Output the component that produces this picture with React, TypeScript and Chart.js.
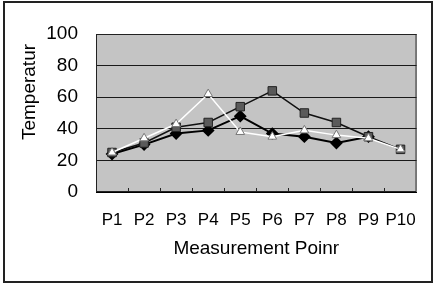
import { useEffect, useRef } from "react";
import { Chart, registerables } from "chart.js";

Chart.register(...registerables);

const categories = ["P1", "P2", "P3", "P4", "P5", "P6", "P7", "P8", "P9", "P10"];
const seriesTriangle = [25, 34, 43, 62, 38, 35, 39, 36, 34, 27];
const seriesSquare = [25, 31, 41, 44, 54, 64, 50, 44, 35, 27];
const seriesDiamond: (number | null)[] = [24, 30, 37, 39, 48, 37, 35, 31, 35, null];
const yTickValues = [0, 20, 40, 60, 80, 100];
const yTitle = "Temperatur";
const xTitle = "Measurement Poinr";

const FAMILY = '"Liberation Sans", Arial, sans-serif';

const framePlugin = {
  id: "frame",
  beforeDraw(chart: any) {
    const ctx = chart.ctx;
    const { left, top, right, bottom } = chart.chartArea;
    ctx.save();
    ctx.fillStyle = "#ffffff";
    ctx.fillRect(0, 0, chart.width, chart.height);
    ctx.strokeStyle = "#222222";
    ctx.lineWidth = 2;
    ctx.strokeRect(4, 2, 428, 280);
    ctx.fillStyle = "#c4c4c4";
    ctx.fillRect(left, top, right - left, bottom - top);
    ctx.restore();
  },
  beforeDatasetsDraw(chart: any) {
    const ctx = chart.ctx;
    const { left, top, right, bottom } = chart.chartArea;
    ctx.save();
    ctx.strokeStyle = "#222222";
    ctx.lineWidth = 1;
    ctx.strokeRect(left + 0.5, top + 0.5, right - left - 1, bottom - top - 1);
    const n = categories.length;
    const step = (right - left) / n;
    ctx.beginPath();
    for (let i = 1; i < n; i++) {
      const x = Math.round(left + step * i) + 0.5;
      ctx.moveTo(x, bottom);
      ctx.lineTo(x, bottom - 4);
    }
    ctx.stroke();
    ctx.restore();
  },
  afterDraw(chart: any) {
    const ctx = chart.ctx;
    ctx.save();
    ctx.translate(30, 92);
    ctx.rotate(-Math.PI / 2);
    ctx.font = `19px ${FAMILY}`;
    ctx.fillStyle = "#000000";
    ctx.textAlign = "center";
    ctx.textBaseline = "middle";
    ctx.fillText(yTitle, 0, 0);
    ctx.restore();
  },
};

export default function App() {
  const ref = useRef<HTMLCanvasElement>(null);

  useEffect(() => {
    if (!ref.current) return;
    const chart = new Chart(ref.current, {
      type: "line",
      data: {
        labels: categories,
        datasets: [
          {
            data: seriesTriangle,
            borderColor: "#ffffff",
            borderWidth: 1.5,
            pointStyle: "triangle",
            pointRadius: 5,
            pointBackgroundColor: "#ffffff",
            pointBorderColor: "#777777",
            pointBorderWidth: 1,
            tension: 0,
          },
          {
            data: seriesSquare,
            borderColor: "#111111",
            borderWidth: 1.5,
            pointStyle: "rect",
            pointRadius: 6,
            pointBackgroundColor: "#5a5a5a",
            pointBorderColor: "#222222",
            pointBorderWidth: 1,
            tension: 0,
          },
          {
            data: seriesDiamond,
            borderColor: "#000000",
            borderWidth: 2,
            pointStyle: "rectRot",
            pointRadius: 5,
            pointBackgroundColor: "#000000",
            pointBorderColor: "#000000",
            tension: 0,
          },
        ],
      },
      options: {
        responsive: false,
        animation: false,
        events: [],
        layout: { padding: { top: 34, right: 6, left: 0, bottom: 22 } },
        plugins: { legend: { display: false }, tooltip: { enabled: false } },
        scales: {
          x: {
            offset: true,
            grid: { display: false, drawTicks: false },
            border: { display: true, color: "#000000", width: 1 },
            ticks: {
              padding: 18,
              color: "#000000",
              font: { family: FAMILY, size: 17 },
              maxRotation: 0,
              autoSkip: false,
            },
            title: {
              display: true,
              text: xTitle,
              color: "#000000",
              font: { family: FAMILY, size: 19 },
              padding: { top: 4, bottom: 4 },
            },
            afterFit: (s: any) => {
              s.height = 72;
            },
          },
          y: {
            min: 0,
            max: 100,
            afterBuildTicks: (s: any) => {
              s.ticks = yTickValues.map((v) => ({ value: v }));
            },
            ticks: {
              padding: 18,
              color: "#000000",
              font: { family: FAMILY, size: 19 },
            },
            grid: { color: "#1a1a1a", lineWidth: 1, drawTicks: false },
            border: { display: true, color: "#000000", width: 1 },
            afterFit: (s: any) => {
              s.width = 96;
            },
          },
        },
      },
      plugins: [framePlugin],
    });
    return () => chart.destroy();
  }, []);

  return (
    <div style={{ position: "fixed", left: 0, top: 0, width: 434, height: 286 }}>
      <canvas ref={ref} width={434} height={286} style={{ display: "block", width: 434, height: 286 }} />
    </div>
  );
}
